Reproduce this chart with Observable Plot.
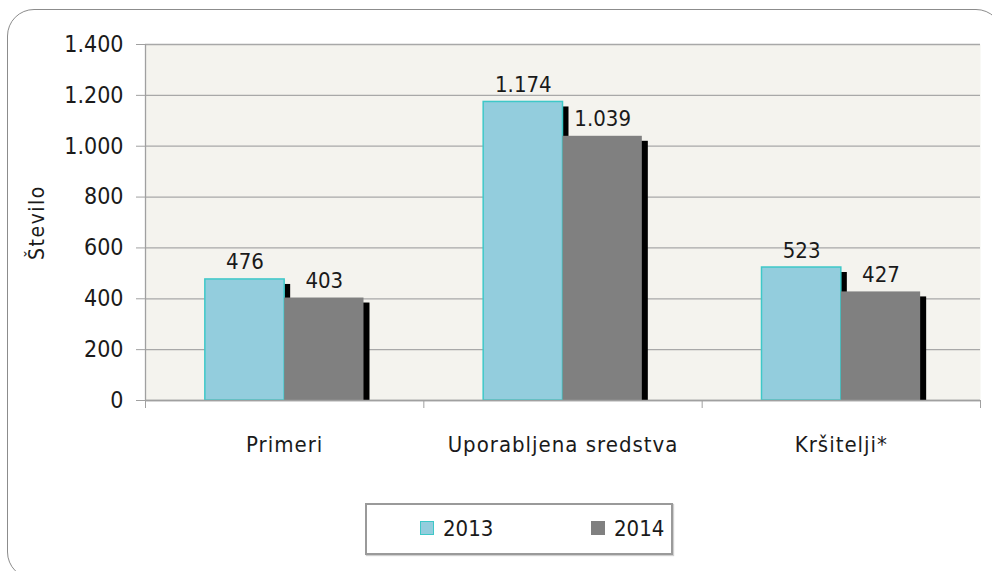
<!DOCTYPE html>
<html>
<head>
<meta charset="utf-8">
<script src="https://cdn.jsdelivr.net/npm/d3@7"></script>
<script src="https://cdn.jsdelivr.net/npm/@observablehq/plot@0.6"></script>
<style>
  html, body { margin: 0; padding: 0; background: #fff; }
  body { width: 992px; height: 571px; overflow: hidden; position: relative;
         font-family: "DejaVu Sans Condensed", "DejaVu Sans", sans-serif; font-stretch: condensed; color: #1a1a1a; }
  #outer { position: absolute; left: 7px; top: 9px; width: 996px; height: 570px;
           border: 1.5px solid #8c8c8c; border-radius: 27px; box-sizing: border-box; }
  #chart { position: absolute; left: 0; top: 0; }
  #chart svg g[aria-label="x-axis tick label"] text { letter-spacing: 1px; }
  #legend { position: absolute; left: 365px; top: 503px; width: 308px; height: 52px;
            border: 2px solid #9a9a9a; box-sizing: border-box; background: #fff;
            box-shadow: 1px 1px 1px #cfcfcf; }
  .sw { position: absolute; width: 14px; height: 14px; box-sizing: border-box; top: 16px; }
  .lt { position: absolute; top: 9px; font-size: 22px; line-height: 30px; }
</style>
</head>
<body>
<div id="outer"></div>
<div id="chart"></div>
<div id="legend"></div>
<script>
const categories = ["Primeri", "Uporabljena sredstva", "Kršitelji*"];
const years = ["2013", "2014"];
const values2013 = [476, 1174, 523];
const values2014 = [403, 1039, 427];
const yTicks = [0, 200, 400, 600, 800, 1000, 1200, 1400];
const yLabel = "Število";

const colors = { "2013": "#93cddd", "2014": "#808080" };
const stroke2013 = "#3ec8c8";
const barW = 0.285;

const fmt = d3.formatLocale({ decimal: ",", thousands: ".", grouping: [3], currency: ["", ""] }).format(",d");

const data = categories.flatMap((c, i) => [
  { cat: c, i, year: "2013", value: values2013[i] },
  { cat: c, i, year: "2014", value: values2014[i] }
]);
const x1 = d => d.i + 0.5 + (d.year === "2013" ? -barW : 0);
const x2 = d => x1(d) + barW;
const xc = d => x1(d) + barW / 2;
const d2013 = data.filter(d => d.year === "2013");
const d2014 = data.filter(d => d.year === "2014");

const font = '"DejaVu Sans Condensed", "DejaVu Sans", sans-serif';

const chart = Plot.plot({
  width: 992,
  height: 470,
  marginLeft: 145,
  marginRight: 12,
  marginTop: 44,
  marginBottom: 70,
  style: { fontFamily: font, fontStretch: "condensed", color: "#1a1a1a", background: "transparent" },
  x: { domain: [0, categories.length], axis: null },
  y: { domain: [0, 1400], axis: null },
  marks: [
    Plot.frame({ fill: "#f4f3ee", stroke: null }),
    Plot.ruleY(yTicks, { stroke: "#a8a8a8", strokeWidth: 1.3 }),
    Plot.rect(data, { x1, x2, y1: 0, y2: "value", fill: "black", dx: 6, dy: 5, clip: true }),
    Plot.rect(d2013, { x1, x2, y1: 0, y2: "value", fill: colors["2013"], stroke: stroke2013, strokeWidth: 1.5 }),
    Plot.rect(d2014, { x1, x2, y1: 0, y2: "value", fill: colors["2014"] }),
    Plot.ruleY([0], { stroke: "#a0a0a0", strokeWidth: 1.3 }),
    Plot.ruleX([0], { y1: 0, y2: 1400, stroke: "#a0a0a0", strokeWidth: 1.3 }),
    Plot.axisY({ ticks: yTicks, tickSize: 9, tickPadding: 13, tickFormat: fmt, fontSize: 23, stroke: "#a0a0a0", fill: "#1a1a1a", label: null }),
    Plot.axisX({ ticks: d3.range(categories.length + 1), tickSize: 8, tickFormat: () => "", stroke: "#a0a0a0", label: null }),
    Plot.axisX({ ticks: categories.map((c, i) => i + 0.5), tickSize: 0, tickPadding: 36, tickFormat: t => categories[Math.floor(t)], fontSize: 22, fill: "#1a1a1a", label: null }),
    Plot.text(data, { x: xc, y: "value", text: d => fmt(d.value), lineAnchor: "bottom", dy: -10, fontSize: 22, fill: "#1a1a1a" }),
    Plot.text([yLabel], { frameAnchor: "left", dx: -108, rotate: -90, textAnchor: "middle", lineAnchor: "middle", fontSize: 21, fill: "#1a1a1a" })
  ]
});
d3.select(chart).selectAll("text").filter(function () { return this.textContent === yLabel; }).style("letter-spacing", "1.5px");
document.getElementById("chart").appendChild(chart);

// legend
const legend = d3.select("#legend");
const legendPos = { "2013": 53, "2014": 224 };
years.forEach(y => {
  legend.append("div").attr("class", "sw")
    .style("left", legendPos[y] + "px")
    .style("background", colors[y])
    .style("border", y === "2013" ? `1.5px solid ${stroke2013}` : "none");
  legend.append("div").attr("class", "lt")
    .style("left", (legendPos[y] + 23) + "px")
    .text(y);
});
</script>
</body>
</html>
